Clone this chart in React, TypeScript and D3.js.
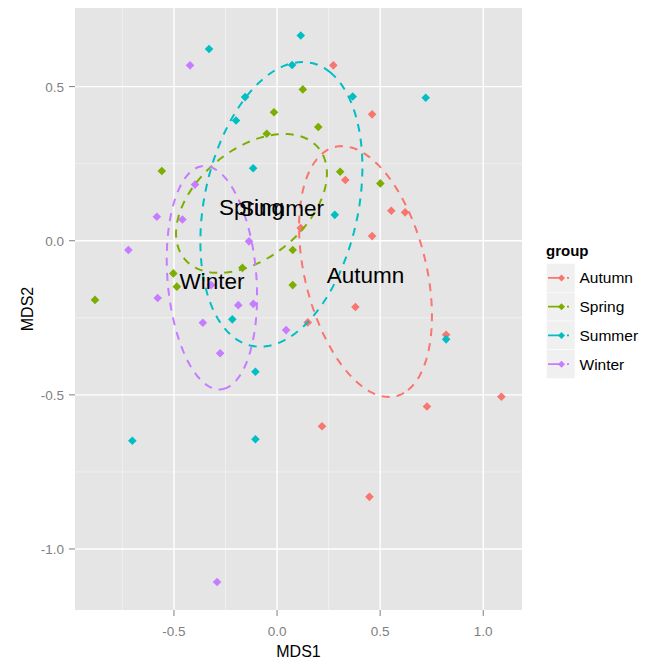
import React, { useEffect, useRef } from "react";
import * as d3 from "d3";

const groups = ["Autumn", "Spring", "Summer", "Winter"];
const groupColors = ["#F8766D", "#7CAE00", "#00BFC4", "#C77CFF"];

// [MDS1, MDS2] for each sample
const autumn = [
  [0.273, 0.569], [0.461, 0.41], [0.331, 0.197], [0.554, 0.097], [0.621, 0.092],
  [0.115, 0.041], [0.461, 0.015], [0.38, -0.215], [0.149, -0.265], [0.82, -0.305],
  [1.088, -0.506], [0.218, -0.602], [0.727, -0.538], [0.448, -0.831],
];
const spring = [
  [-0.015, 0.417], [-0.05, 0.347], [-0.559, 0.226], [0.125, 0.491], [0.2, 0.369],
  [0.306, 0.224], [0.501, 0.186], [0.076, -0.03], [0.076, -0.144], [-0.503, -0.106],
  [-0.486, -0.149], [-0.168, -0.088], [-0.883, -0.192],
];
const summer = [
  [-0.33, 0.622], [0.115, 0.666], [0.073, 0.57], [-0.155, 0.466], [-0.199, 0.39],
  [-0.116, 0.235], [0.367, 0.468], [0.721, 0.464], [0.28, 0.084], [-0.217, -0.255],
  [-0.105, -0.425], [0.82, -0.32], [-0.702, -0.649], [-0.105, -0.644],
];
const winter = [
  [-0.422, 0.569], [-0.398, 0.182], [-0.583, 0.078], [-0.459, 0.069], [-0.721, -0.03],
  [-0.136, -0.002], [-0.32, -0.144], [-0.579, -0.186], [-0.188, -0.209], [-0.115, -0.205],
  [-0.36, -0.266], [0.044, -0.29], [-0.276, -0.365], [-0.291, -1.107],
];
const pointsByGroup = [autumn, spring, summer, winter];

// ellipse centre, semi axes and rotation (deg), in MDS units
const ellCx = [0.429, -0.124, 0.021, -0.316];
const ellCy = [-0.1, 0.121, 0.118, -0.12];
const ellA = [0.4365, 0.3836, 0.4896, 0.3652];
const ellB = [0.281, 0.194, 0.3578, 0.2145];
const ellAngle = [-61.8, 20.3, 60.9, -81.3];

const xMajor = [-0.5, 0, 0.5, 1.0];
const xMinor = [-0.75, -0.25, 0.25];
const yMajor = [-1.0, -0.5, 0, 0.5];
const yMinor = [-0.75, -0.25, 0.25];

const font = "'Liberation Sans', Arial, sans-serif";

function drawChart(node: SVGSVGElement) {
  const svg = d3.select(node);
  svg.selectAll("*").remove();

  const left = 75, right = 522, top = 8, bottom = 610;
  const x = d3.scaleLinear().domain([-0.98, 1.188]).range([left, right]);
  const y = d3.scaleLinear().domain([-1.198, 0.755]).range([bottom, top]);

  svg.append("rect").attr("width", 651).attr("height", 664).attr("fill", "#fff");
  svg.append("rect")
    .attr("x", left).attr("y", top)
    .attr("width", right - left).attr("height", bottom - top)
    .attr("fill", "#E5E5E5");

  // grid
  const grid = svg.append("g");
  grid.selectAll(".vminor").data(xMinor).enter().append("line")
    .attr("x1", (d) => x(d)).attr("x2", (d) => x(d)).attr("y1", top).attr("y2", bottom)
    .attr("stroke", "#F2F2F2").attr("stroke-width", 0.8);
  grid.selectAll(".hminor").data(yMinor).enter().append("line")
    .attr("y1", (d) => y(d)).attr("y2", (d) => y(d)).attr("x1", left).attr("x2", right)
    .attr("stroke", "#F2F2F2").attr("stroke-width", 0.8);
  grid.selectAll(".vmajor").data(xMajor).enter().append("line")
    .attr("x1", (d) => x(d)).attr("x2", (d) => x(d)).attr("y1", top).attr("y2", bottom)
    .attr("stroke", "#fff").attr("stroke-width", 1.4);
  grid.selectAll(".hmajor").data(yMajor).enter().append("line")
    .attr("y1", (d) => y(d)).attr("y2", (d) => y(d)).attr("x1", left).attr("x2", right)
    .attr("stroke", "#fff").attr("stroke-width", 1.4);

  // ticks + labels
  const fmt = (d: number) => d.toFixed(1);
  const xt = svg.append("g");
  xt.selectAll("line").data(xMajor).enter().append("line")
    .attr("x1", (d) => x(d)).attr("x2", (d) => x(d)).attr("y1", bottom).attr("y2", bottom + 6)
    .attr("stroke", "#7F7F7F").attr("stroke-width", 1);
  xt.selectAll("text").data(xMajor).enter().append("text")
    .attr("x", (d) => x(d)).attr("y", 636)
    .attr("text-anchor", "middle").attr("font-family", font).attr("font-size", 13.5)
    .attr("fill", "#7F7F7F").text(fmt);
  const yt = svg.append("g");
  yt.selectAll("line").data(yMajor).enter().append("line")
    .attr("y1", (d) => y(d)).attr("y2", (d) => y(d)).attr("x1", left - 6).attr("x2", left)
    .attr("stroke", "#7F7F7F").attr("stroke-width", 1);
  yt.selectAll("text").data(yMajor).enter().append("text")
    .attr("x", 64).attr("y", (d) => y(d) + 5)
    .attr("text-anchor", "end").attr("font-family", font).attr("font-size", 13.5)
    .attr("fill", "#7F7F7F").text(fmt);

  // points
  const diamond = "M0,-4.3L4.3,0L0,4.3L-4.3,0Z";
  pointsByGroup.forEach((pts, gi) => {
    svg.append("g").selectAll("path").data(pts).enter().append("path")
      .attr("d", diamond)
      .attr("transform", (d) => `translate(${x(d[0])},${y(d[1])})`)
      .attr("fill", groupColors[gi]);
  });

  // ellipses
  const line = d3.line<number[]>().x((d) => x(d[0])).y((d) => y(d[1]));
  groups.forEach((g, gi) => {
    const th = (ellAngle[gi] * Math.PI) / 180;
    const ring = d3.range(0, 101).map((k) => {
      const t = (k / 100) * 2 * Math.PI;
      return [
        ellCx[gi] + ellA[gi] * Math.cos(th) * Math.cos(t) - ellB[gi] * Math.sin(th) * Math.sin(t),
        ellCy[gi] + ellA[gi] * Math.sin(th) * Math.cos(t) + ellB[gi] * Math.cos(th) * Math.sin(t),
      ];
    });
    svg.append("path")
      .attr("d", line(ring))
      .attr("fill", "none")
      .attr("stroke", groupColors[gi])
      .attr("stroke-width", 2)
      .attr("stroke-dasharray", "8,7");
  });

  // group labels at ellipse centres
  svg.append("g").selectAll("text").data(groups).enter().append("text")
    .attr("x", (d, i) => x(ellCx[i]))
    .attr("y", (d, i) => y(ellCy[i]))
    .attr("dy", "0.5em")
    .attr("text-anchor", "middle")
    .attr("font-family", font).attr("font-size", 22.5).attr("fill", "#000")
    .text((d) => d);

  // axis titles
  svg.append("text").attr("x", (left + right) / 2).attr("y", 657)
    .attr("text-anchor", "middle").attr("font-family", font).attr("font-size", 16)
    .text("MDS1");
  svg.append("text").attr("transform", `translate(33,${(top + bottom) / 2}) rotate(-90)`)
    .attr("text-anchor", "middle").attr("font-family", font).attr("font-size", 16)
    .text("MDS2");

  // legend
  const lg = svg.append("g");
  lg.append("text").attr("x", 546).attr("y", 256)
    .attr("font-family", font).attr("font-size", 15).attr("font-weight", "bold")
    .text("group");
  const keyH = 28.75;
  const keys = lg.selectAll(".key").data(groups).enter().append("g")
    .attr("transform", (d, i) => `translate(546.5,${263.5 + i * keyH})`);
  keys.append("rect").attr("width", 28.5).attr("height", keyH)
    .attr("fill", "#F0F0F0").attr("stroke", "#fff").attr("stroke-width", 0.5);
  keys.append("line").attr("x1", 1.5).attr("x2", 27).attr("y1", keyH / 2).attr("y2", keyH / 2)
    .attr("stroke", (d, i) => groupColors[i]).attr("stroke-width", 1.8)
    .attr("stroke-dasharray", "13,6,2,10");
  keys.append("path").attr("d", "M0,-3.5L3.5,0L0,3.5L-3.5,0Z")
    .attr("transform", `translate(15,${keyH / 2})`)
    .attr("fill", (d, i) => groupColors[i]);
  keys.append("text").attr("x", 33).attr("y", keyH / 2 + 5.5)
    .attr("font-family", font).attr("font-size", 15.5).attr("fill", "#000")
    .text((d) => d);
}

export default function App() {
  const ref = useRef<SVGSVGElement>(null);
  useEffect(() => {
    if (ref.current) drawChart(ref.current);
  }, []);
  return (
    <svg
      ref={ref}
      width={651}
      height={664}
      style={{ position: "absolute", left: 0, top: 0 }}
    />
  );
}
